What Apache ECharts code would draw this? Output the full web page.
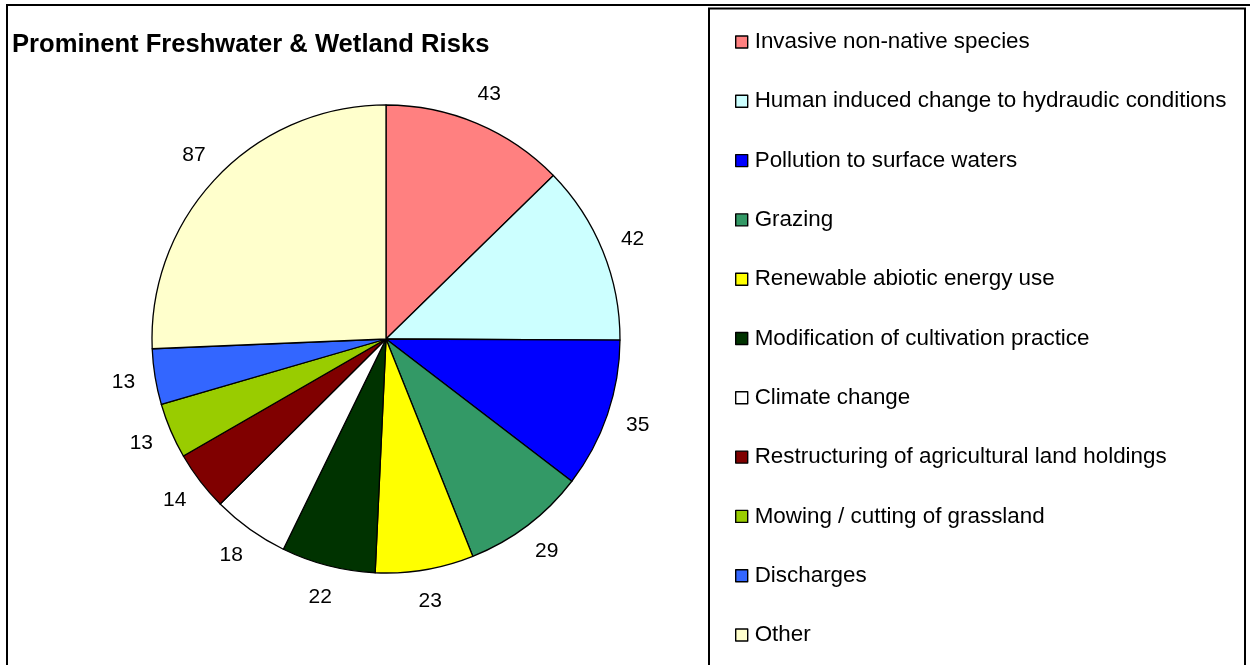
<!DOCTYPE html>
<html>
<head>
<meta charset="utf-8">
<script src="https://cdn.jsdelivr.net/npm/echarts@6/dist/echarts.min.js"></script>
<style>
html,body{margin:0;padding:0;background:#fff;}
#chart{width:1250px;height:665px;}
</style>
</head>
<body>
<div id="chart"></div>
<script>
const title = 'Prominent Freshwater & Wetland Risks';
const categories = [
  'Invasive non-native species',
  'Human induced change to hydraudic conditions',
  'Pollution to surface waters',
  'Grazing',
  'Renewable abiotic energy use',
  'Modification of cultivation practice',
  'Climate change',
  'Restructuring of agricultural land holdings',
  'Mowing / cutting of grassland',
  'Discharges',
  'Other'
];
const values = [43, 42, 35, 29, 23, 22, 18, 14, 13, 13, 87];
const colors = ['#FF8080','#CCFFFF','#0000FF','#339966','#FFFF00','#003300','#FFFFFF','#800000','#99CC00','#3366FF','#FFFFCC'];

const FONT = '"Liberation Sans", Arial, sans-serif';
const chart = echarts.init(document.getElementById('chart'), null, {renderer: 'canvas'});

const pieData = categories.map((n, i) => ({name: n, value: values[i], itemStyle: {color: colors[i]}}));
const labelData = categories.map((n, i) => ({name: n, value: values[i]}));

chart.setOption({
  animation: false,
  backgroundColor: '#fff',
  graphic: [
    {type: 'rect', shape: {x: 7, y: 5, width: 1300, height: 720}, style: {fill: 'none', stroke: '#000', lineWidth: 2}, z: 100, silent: true},
    {type: 'rect', shape: {x: 709, y: 8.5, width: 536, height: 720}, style: {fill: 'none', stroke: '#000', lineWidth: 2}, z: 100, silent: true}
  ],
  title: {
    text: title,
    left: 12,
    top: 32,
    padding: 0,
    textStyle: {fontFamily: FONT, fontSize: 25.6, fontWeight: 'bold', color: '#000', lineHeight: 26}
  },
  legend: {
    orient: 'vertical',
    left: 735,
    top: 31,
    padding: 0,
    itemWidth: 12,
    itemHeight: 12,
    itemGap: 37.3,
    icon: 'rect',
    selectedMode: false,
    data: categories,
    itemStyle: {borderColor: '#000', borderWidth: 1.4},
    textStyle: {fontFamily: FONT, fontSize: 22.4, color: '#000', lineHeight: 22, padding: [0, 0, 0, 2]}
  },
  series: [
    {
      type: 'pie',
      center: [386, 339],
      radius: [0, 234],
      startAngle: 90,
      clockwise: true,
      silent: true,
      label: {show: false},
      labelLine: {show: false},
      itemStyle: {borderColor: '#000', borderWidth: 1.3},
      emphasis: {disabled: true},
      data: pieData
    },
    {
      type: 'pie',
      center: [386, 339],
      radius: [234, 292],
      startAngle: 90,
      clockwise: true,
      silent: true,
      avoidLabelOverlap: false,
      itemStyle: {color: 'rgba(0,0,0,0)', borderWidth: 0},
      label: {show: true, position: 'inside', formatter: '{c}', fontFamily: FONT, fontSize: 21, color: '#000', padding: [7, 0, 0, 0]},
      labelLine: {show: false},
      emphasis: {disabled: true},
      data: labelData
    }
  ]
});
</script>
</body>
</html>
